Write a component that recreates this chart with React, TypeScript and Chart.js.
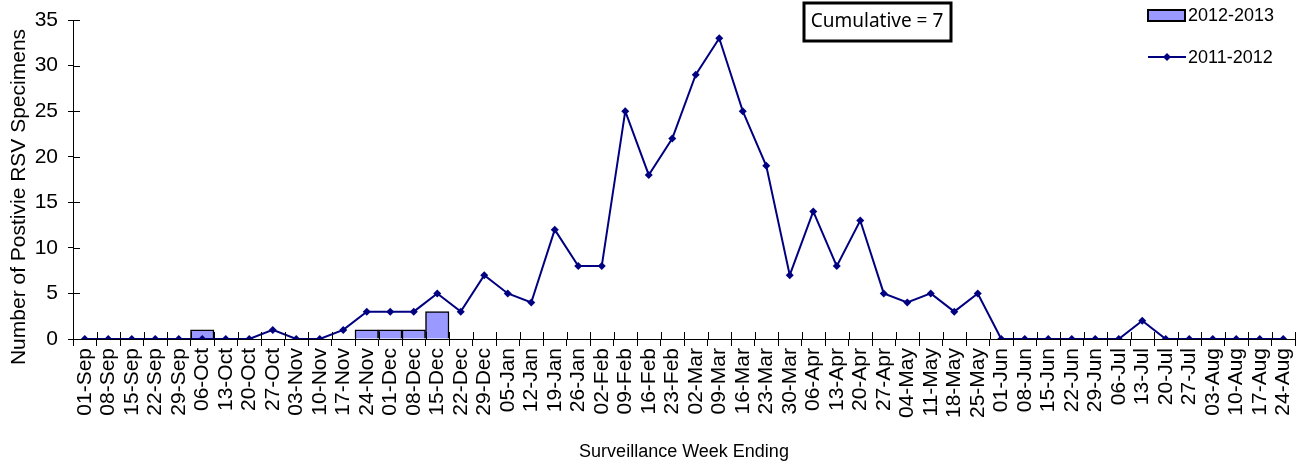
import React, { useEffect, useRef } from "react";
import { Chart, registerables } from "chart.js";

Chart.register(...registerables);

const weeks = [
  "01-Sep", "08-Sep", "15-Sep", "22-Sep", "29-Sep",
  "06-Oct", "13-Oct", "20-Oct", "27-Oct",
  "03-Nov", "10-Nov", "17-Nov", "24-Nov",
  "01-Dec", "08-Dec", "15-Dec", "22-Dec", "29-Dec",
  "05-Jan", "12-Jan", "19-Jan", "26-Jan",
  "02-Feb", "09-Feb", "16-Feb", "23-Feb",
  "02-Mar", "09-Mar", "16-Mar", "23-Mar", "30-Mar",
  "06-Apr", "13-Apr", "20-Apr", "27-Apr",
  "04-May", "11-May", "18-May", "25-May",
  "01-Jun", "08-Jun", "15-Jun", "22-Jun", "29-Jun",
  "06-Jul", "13-Jul", "20-Jul", "27-Jul",
  "03-Aug", "10-Aug", "17-Aug", "24-Aug",
];

const season2011_2012 = [
  0, 0, 0, 0, 0, 0, 0, 0, 1, 0, 0, 1, 3, 3, 3, 5, 3, 7, 5, 4, 12, 8, 8, 25, 18, 22,
  29, 33, 25, 19, 7, 14, 8, 13, 5, 4, 5, 3, 5, 0, 0, 0, 0, 0, 0, 2, 0, 0, 0, 0, 0, 0,
];

const season2012_2013: (number | null)[] = [
  null, null, null, null, null, 1, null, null, null, null, null, null, 1, 1, 1, 3,
  null, null, null, null, null, null, null, null, null, null, null, null, null, null,
  null, null, null, null, null, null, null, null, null, null, null, null, null, null,
  null, null, null, null, null, null, null, null,
];

const yTicks = [0, 5, 10, 15, 20, 25, 30, 35];
const seriesNames = ["2012-2013", "2011-2012"];
const cumulativeText = "Cumulative = 7";
const yTitle = "Number of Postivie RSV Specimens";
const xTitle = "Surveillance Week Ending";

const NAVY = "#000080";
const BAR = "#9999FF";
const FONT = "'Liberation Sans', Arial, sans-serif";

const decorPlugin = {
  id: "decor",
  afterDraw(chart: any) {
    const ctx = chart.ctx;
    const area = chart.chartArea;
    const xs = chart.scales.x;
    const ys = chart.scales.y;
    ctx.save();
    ctx.strokeStyle = "#000";
    ctx.lineWidth = 1;
    // inward y ticks
    yTicks.forEach((v) => {
      const py = Math.round(ys.getPixelForValue(v)) + 0.5;
      ctx.beginPath();
      ctx.moveTo(area.left, py);
      ctx.lineTo(area.left + 7, py);
      ctx.stroke();
    });
    // inward x ticks at category boundaries
    const n = weeks.length;
    for (let i = 0; i <= n; i++) {
      let px;
      if (i === 0) px = area.left;
      else if (i === n) px = area.right;
      else px = (xs.getPixelForValue(i - 1) + xs.getPixelForValue(i)) / 2;
      px = Math.round(px) + 0.5;
      ctx.beginPath();
      ctx.moveTo(px, area.bottom);
      ctx.lineTo(px, area.bottom - 7);
      ctx.stroke();
    }

    // y axis title
    ctx.save();
    ctx.translate(19, 197);
    ctx.rotate(-Math.PI / 2);
    ctx.fillStyle = "#000";
    ctx.font = `21px ${FONT}`;
    ctx.textAlign = "center";
    ctx.textBaseline = "middle";
    ctx.fillText(yTitle, 0, 0);
    ctx.restore();

    // legend
    ctx.fillStyle = BAR;
    ctx.fillRect(1148, 10, 37, 11);
    ctx.lineWidth = 2;
    ctx.strokeStyle = "#000";
    ctx.strokeRect(1148, 10, 37, 11);
    ctx.fillStyle = "#000";
    ctx.font = `18px ${FONT}`;
    ctx.textBaseline = "middle";
    ctx.textAlign = "left";
    ctx.fillText(seriesNames[0], 1188, 16);

    ctx.strokeStyle = NAVY;
    ctx.lineWidth = 2;
    ctx.beginPath();
    ctx.moveTo(1148, 57);
    ctx.lineTo(1186, 57);
    ctx.stroke();
    ctx.fillStyle = NAVY;
    ctx.beginPath();
    ctx.moveTo(1167, 53);
    ctx.lineTo(1171, 57);
    ctx.lineTo(1167, 61);
    ctx.lineTo(1163, 57);
    ctx.closePath();
    ctx.fill();
    ctx.fillStyle = "#000";
    ctx.fillText(seriesNames[1], 1188, 58);

    // cumulative box
    ctx.lineWidth = 3;
    ctx.strokeStyle = "#000";
    ctx.fillStyle = "#fff";
    ctx.fillRect(804, 3, 147, 38);
    ctx.strokeRect(804, 3, 147, 38);
    ctx.fillStyle = "#000";
    ctx.font = `19px 'Noto Sans', sans-serif`;
    ctx.textAlign = "center";
    ctx.fillText(cumulativeText, 877, 22);
    ctx.restore();
  },
};

export default function App() {
  const canvasRef = useRef<HTMLCanvasElement | null>(null);

  useEffect(() => {
    if (!canvasRef.current) return;
    Chart.defaults.font.family = FONT;
    Chart.defaults.color = "#000";
    const chart = new Chart(canvasRef.current, {
      type: "bar",
      data: {
        labels: weeks,
        datasets: [
          {
            type: "line",
            label: seriesNames[1],
            data: season2011_2012,
            borderColor: NAVY,
            backgroundColor: NAVY,
            borderWidth: 2,
            pointStyle: "rectRot",
            pointRadius: 4,
            pointBackgroundColor: NAVY,
            pointBorderColor: NAVY,
            pointBorderWidth: 0,
            tension: 0,
            order: 0,
          } as any,
          {
            type: "bar",
            label: seriesNames[0],
            data: season2012_2013,
            backgroundColor: BAR,
            borderColor: "#000",
            borderWidth: 1.5,
            barPercentage: 1,
            categoryPercentage: 1,
            order: 1,
          } as any,
        ],
      },
      options: {
        animation: false,
        responsive: true,
        maintainAspectRatio: false,
        layout: { padding: { top: 20, right: 9, bottom: 0, left: 0 } },
        plugins: {
          legend: { display: false },
          tooltip: { enabled: false },
        },
        scales: {
          x: {
            offset: true,
            grid: {
              offset: true,
              drawOnChartArea: false,
              tickLength: 7,
              color: "#000",
              tickColor: "#000",
            },
            border: { color: "#000", width: 1 },
            ticks: {
              autoSkip: false,
              maxRotation: 90,
              minRotation: 90,
              padding: 2,
              font: { size: 21, family: FONT },
              color: "#000",
            },
            title: {
              display: true,
              text: xTitle,
              font: { size: 18, family: FONT },
              color: "#000",
              padding: { top: 4, bottom: 2 },
            },
            afterFit: (s: any) => {
              s.height = 126;
              s.paddingLeft = 0;
              s.paddingRight = 0;
            },
          },
          y: {
            min: 0,
            max: 35,
            afterBuildTicks: (s: any) => {
              s.ticks = yTicks.map((v) => ({ value: v }));
            },
            grid: {
              drawOnChartArea: false,
              tickLength: 5,
              color: "#000",
              tickColor: "#000",
            },
            border: { color: "#000", width: 1 },
            ticks: {
              padding: 10,
              font: { size: 21, family: FONT },
              color: "#000",
            },
            title: { display: false },
            afterFit: (s: any) => {
              s.width = 73;
              s.paddingTop = 0;
              s.paddingBottom = 0;
            },
          },
        },
      },
      plugins: [decorPlugin],
    });
    return () => chart.destroy();
  }, []);

  return (
    <div style={{ position: "absolute", left: 0, top: 0, width: 1304, height: 465 }}>
      <canvas ref={canvasRef} />
    </div>
  );
}
